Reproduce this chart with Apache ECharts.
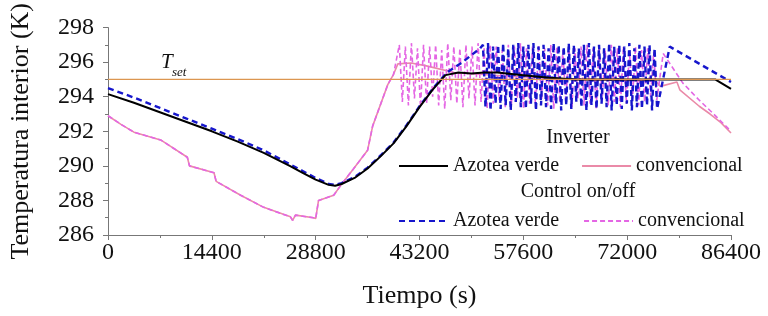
<!DOCTYPE html>
<html>
<head>
<meta charset="utf-8">
<script src="https://cdn.jsdelivr.net/npm/echarts@6/dist/echarts.min.js"></script>
<style>
  html, body { margin: 0; padding: 0; background: #fff; }
  #chart { width: 768px; height: 316px; }
</style>
</head>
<body>
<div id="chart"></div>
<script>
// Inverter - azotea verde (black solid), [time s, temperature K]
const invVerde = [[0,294.15],[3600,293.65],[7200,293.1],[10800,292.55],[14400,292.0],[18000,291.4],[21600,290.75],[25200,290.0],[27000,289.6],[28800,289.2],[30600,288.9],[31500,288.85],[32400,288.95],[34200,289.3],[36000,289.85],[37800,290.55],[39600,291.3],[41400,292.3],[43200,293.4],[45000,294.4],[46800,295.25],[48600,295.4],[50400,295.35],[52200,295.4],[54000,295.4],[57600,295.25],[61200,295.1],[64800,295.0],[72000,295.0],[79200,295.0],[84200,295.0],[86400,294.45]];

// Inverter - convencional (pink solid)
const invConv = [[0,292.9],[1800,292.4],[3600,291.95],[7300,291.5],[11000,290.5],[11300,290.0],[14700,289.6],[15000,289.1],[18400,288.3],[21600,287.6],[25300,287.05],[25600,286.85],[26000,287.15],[28500,287.0],[28800,286.95],[29200,288.0],[31300,288.3],[32500,289.0],[34000,289.8],[36000,290.9],[36700,292.3],[38800,294.7],[39600,295.3],[40200,295.9],[42000,295.95],[44000,295.8],[48000,295.4],[55000,295.2],[65000,295.0],[76000,294.9],[76600,294.6],[78900,294.85],[79300,294.4],[82000,293.45],[83500,293.0],[85000,292.5],[86400,291.9]];

// Control on/off - azotea verde (blue dashed)
const onoffVerdeRamp = [[0,294.5],[3600,293.95],[7200,293.35],[10800,292.75],[14400,292.15],[18000,291.55],[21600,290.9],[25200,290.1],[27000,289.7],[28800,289.3],[30600,288.95],[31500,288.9],[32400,289.0],[34200,289.35],[36000,289.9],[37800,290.6],[39600,291.35],[41400,292.35],[43200,293.45],[45000,294.45],[47000,295.4],[49000,295.95],[51600,296.8]];
const onoffVerdeStart = 52000, onoffVerdeStep = 350;
const onoffVerdePeaks = [297.0,297.1,296.9,297.0,297.1,296.8,297.0,297.1,296.9,297.0,297.1,296.9,297.0,296.8,297.1,297.0,296.9,297.1,297.0,296.8,297.0,297.1,296.9,297.0,296.8,297.1,296.9,297.0,296.9,297.1,296.8,297.0,296.9,297.0,296.8];
const onoffVerdeTroughs = [293.4,293.2,293.6,293.3,293.5,293.2,293.7,293.4,293.3,293.6,293.2,293.5,293.4,293.3,293.6,293.2,293.5,293.3,293.7,293.4,293.2,293.5,293.3,293.6,293.4,293.2,293.5,293.3,293.6,293.2,293.4,293.3,293.5,293.2,293.3];
const onoffVerdeTail = [[77900,296.9],[86400,294.85]];

// Control on/off - convencional (magenta dashed)
const onoffConvSplit = 39600;
const onoffConvStart = 40400, onoffConvStep = 420;
const onoffConvPeaks = [297.0,296.9,297.1,296.8,297.0,296.9,297.0,296.7,297.1,296.9,296.8,297.0,296.9,297.1,296.8,297.0,296.9,296.7,297.0,296.9,297.1,296.8,296.9,297.0,296.8,297.0,296.9,296.7,297.0,296.8,296.9,297.0,296.8,296.9,296.7,297.0,296.8,296.9,296.6,296.9,296.7,296.8,296.6];
const onoffConvTroughs = [293.7,293.5,293.9,293.4,293.6,294.0,293.5,293.3,293.8,293.6,293.4,293.9,293.5,293.7,293.3,293.6,293.8,293.4,293.5,293.9,293.3,293.6,293.4,293.8,293.5,293.3,293.7,293.6,293.4,293.9,293.5,293.6,293.3,293.8,293.5,293.7,293.4,293.6,293.9,293.5,293.7,294.0,293.8];
const onoffConvTail = [[77000,296.5],[79700,294.8],[82000,293.8],[84000,293.0],[86400,292.0]];

const tSet = 295;
const xTicks = { min: 0, max: 86400, interval: 14400 };
const yTicks = { min: 286, max: 298, interval: 2 };

const labels = {
  invVerde: 'Azotea verde', invConv: 'convencional',
  onoffVerde: 'Azotea verde', onoffConv: 'convencional'
};

function cycles(start, step, peaks, troughs) {
  const pts = [];
  for (let i = 0; i < peaks.length; i++) {
    pts.push([start + 2 * i * step, peaks[i]]);
    if (i < troughs.length) pts.push([start + (2 * i + 1) * step, troughs[i]]);
  }
  return pts;
}

const onoffVerde = onoffVerdeRamp
  .concat(cycles(onoffVerdeStart, onoffVerdeStep, onoffVerdePeaks, onoffVerdeTroughs))
  .concat(onoffVerdeTail);
const onoffConv = invConv.filter(p => p[0] <= onoffConvSplit)
  .concat(cycles(onoffConvStart, onoffConvStep, onoffConvPeaks, onoffConvTroughs))
  .concat(onoffConvTail);

const serif = 'Liberation Serif, Times New Roman, serif';
const chart = echarts.init(document.getElementById('chart'));

const legendText = { fontFamily: serif, fontSize: 20, color: '#111' };
// hide the legend symbol, keep only the line
const legendItem = { opacity: 0, borderWidth: 0 };

chart.setOption({
  animation: false,
  backgroundColor: '#fff',
  grid: { left: 107, right: 37, top: 26, bottom: 81 },
  xAxis: {
    type: 'value', min: xTicks.min, max: xTicks.max, interval: xTicks.interval,
    name: 'Tiempo (s)', nameLocation: 'middle', nameGap: 48,
    nameTextStyle: { fontFamily: serif, fontSize: 26, color: '#111' },
    axisLine: { lineStyle: { color: '#777', width: 1 } },
    axisTick: { length: 5, lineStyle: { color: '#777' } },
    minorTick: { show: true, splitNumber: 2, length: 3, lineStyle: { color: '#777' } },
    splitLine: { show: false },
    axisLabel: { fontFamily: serif, fontSize: 24, color: '#111', margin: 6, formatter: v => String(v) }
  },
  yAxis: {
    type: 'value', min: yTicks.min, max: yTicks.max, interval: yTicks.interval,
    name: 'Temperatura interior (K)', nameLocation: 'middle', nameGap: 74,
    nameTextStyle: { fontFamily: serif, fontSize: 26, color: '#111' },
    axisLine: { show: true, lineStyle: { color: '#777', width: 1 } },
    axisTick: { show: true, length: 5, lineStyle: { color: '#777' } },
    minorTick: { show: true, splitNumber: 2, length: 3, lineStyle: { color: '#777' } },
    splitLine: { show: false },
    axisLabel: { fontFamily: serif, fontSize: 24, color: '#111', margin: 14, formatter: v => String(v) }
  },
  legend: [
    {
      data: ['invVerde', 'invConv'], left: 393, top: 151,
      itemWidth: 49, itemHeight: 12, itemGap: 22, itemStyle: legendItem,
      formatter: n => labels[n], textStyle: legendText
    },
    {
      data: ['onoffVerde', 'onoffConv'], left: 393, top: 206,
      itemWidth: 49, itemHeight: 12, itemGap: 24, itemStyle: legendItem,
      formatter: n => labels[n], textStyle: legendText
    }
  ],
  graphic: [
    { type: 'text', x: 578, y: 138, style: { text: 'Inverter', font: '20px ' + serif, fill: '#111', align: 'center', verticalAlign: 'middle' } },
    { type: 'text', x: 578, y: 192, style: { text: 'Control on/off', font: '20px ' + serif, fill: '#111', align: 'center', verticalAlign: 'middle' } },
    { type: 'text', x: 161, y: 52, style: { text: 'T', font: 'italic 21px ' + serif, fill: '#111' } },
    { type: 'text', x: 172, y: 66, style: { text: 'set', font: 'italic 13px ' + serif, fill: '#111' } }
  ],
  series: [
    {
      name: 'invConv', type: 'line', data: invConv, symbol: 'none', z: 1,
      lineStyle: { color: '#ea8aa8', width: 1.6 }, itemStyle: { color: '#ea8aa8' }
    },
    {
      name: 'onoffConv', type: 'line', data: onoffConv, symbol: 'none', z: 2,
      lineStyle: { color: '#e466e4', width: 1.6, type: [5, 3] }, itemStyle: { color: '#e466e4' }
    },
    {
      name: 'onoffVerde', type: 'line', data: onoffVerde, symbol: 'none', z: 3,
      lineStyle: { color: '#1616cc', width: 2.4, type: [6, 4] }, itemStyle: { color: '#1616cc' }
    },
    {
      name: 'invVerde', type: 'line', data: invVerde, symbol: 'none', z: 4,
      lineStyle: { color: '#000', width: 2 }, itemStyle: { color: '#000' }
    },
    {
      name: 'Tset', type: 'line', data: [[xTicks.min, tSet], [xTicks.max, tSet]], symbol: 'none', z: 5,
      lineStyle: { color: '#dc9650', width: 1.2 }, itemStyle: { color: '#dc9650' }, silent: true
    }
  ]
});
</script>
</body>
</html>
